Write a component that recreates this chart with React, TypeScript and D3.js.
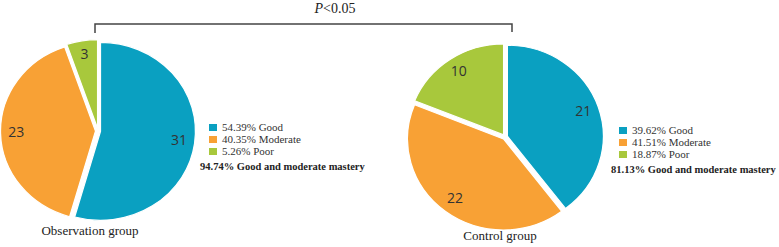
import React from "react";
import * as d3 from "d3";

const categories = ["Good", "Moderate", "Poor"];
const colors = ["#0aa0c1", "#f8a135", "#a8c83c"];
const obsCounts = [31, 23, 3];
const obsPercents = ["54.39%", "40.35%", "5.26%"];
const ctrlCounts = [21, 22, 10];
const ctrlPercents = ["39.62%", "41.51%", "18.87%"];
const groupNames = ["Observation group", "Control group"];
const summaries = ["94.74% Good and moderate mastery", "81.13% Good and moderate mastery"];
const pLabel = "<0.05";

type PieProps = {
  counts: number[];
  percents: string[];
  name: string;
  summary: string;
  cx: number;
  cy: number;
  rx: number;
  ry: number;
  legendX: number;
  legendY: number;
  summaryX: number;
  nameX: number;
  nameY: number;
};

const Pie = (p: PieProps) => {
  const pie = d3.pie<number>().sort(null).value((d) => d);
  const arcs = pie(p.counts);
  const arc = d3.arc<d3.PieArcDatum<number>>().innerRadius(0).outerRadius(p.ry);
  const sx = p.rx / p.ry;
  const explode = 2.5;
  return (
    <g>
      {arcs.map((a, i) => {
        const mid = (a.startAngle + a.endAngle) / 2;
        const dx = Math.sin(mid) * explode;
        const dy = -Math.cos(mid) * explode;
        return (
          <path
            key={i}
            d={arc(a) || ""}
            fill={colors[i]}
            stroke="#fff"
            strokeWidth={1.2}
            transform={`translate(${p.cx + dx},${p.cy + dy}) scale(${sx},1)`}
          />
        );
      })}
      {arcs.map((a, i) => {
        const mid = (a.startAngle + a.endAngle) / 2;
        const x = p.cx + Math.sin(mid) * p.rx * 0.86;
        const y = p.cy - Math.cos(mid) * p.ry * 0.86;
        return (
          <text
            key={i}
            x={x}
            y={y}
            textAnchor="middle"
            dominantBaseline="middle"
            fontFamily="'Open Sans', sans-serif"
            fontSize={14}
            fill="#333"
          >
            {p.counts[i]}
          </text>
        );
      })}
      {categories.map((c, i) => (
        <g key={c}>
          <rect x={p.legendX} y={p.legendY + i * 12 - 4} width={8} height={7} fill={colors[i]} />
          <text
            x={p.legendX + 13}
            y={p.legendY + i * 12}
            dominantBaseline="middle"
            fontFamily="'Liberation Serif', serif"
            fontSize={11}
            fill="#333"
          >
            {p.percents[i]} {c}
          </text>
        </g>
      ))}
      <text
        x={p.summaryX}
        y={p.legendY + 40}
        dominantBaseline="middle"
        fontFamily="'Liberation Serif', serif"
        fontWeight="bold"
        fontSize={10.5}
        fill="#222"
      >
        {p.summary}
      </text>
      <text
        x={p.nameX}
        y={p.nameY}
        textAnchor="middle"
        dominantBaseline="middle"
        fontFamily="'Liberation Serif', serif"
        fontSize={13}
        fill="#222"
      >
        {p.name}
      </text>
    </g>
  );
};

const App = () => {
  return (
    <svg width={779} height={247} style={{ position: "absolute", left: 0, top: 0 }}>
      <rect width={779} height={247} fill="#fff" />
      <path d="M95,33V24H512V32" fill="none" stroke="#444" strokeWidth={1.5} />
      <text x={335} y={10} textAnchor="middle" dominantBaseline="middle" fontFamily="'Liberation Serif', serif" fontSize={14} fill="#222">
        <tspan fontStyle="italic">P</tspan>
        {pLabel}
      </text>
      <Pie
        counts={obsCounts}
        percents={obsPercents}
        name={groupNames[0]}
        summary={summaries[0]}
        cx={98}
        cy={131}
        rx={95}
        ry={89}
        legendX={209}
        legendY={128}
        summaryX={200}
        nameX={90}
        nameY={232}
      />
      <Pie
        counts={ctrlCounts}
        percents={ctrlPercents}
        name={groupNames[1]}
        summary={summaries[1]}
        cx={505}
        cy={137}
        rx={96}
        ry={91}
        legendX={619}
        legendY={131}
        summaryX={611}
        nameX={500}
        nameY={237}
      />
    </svg>
  );
};

export default App;
